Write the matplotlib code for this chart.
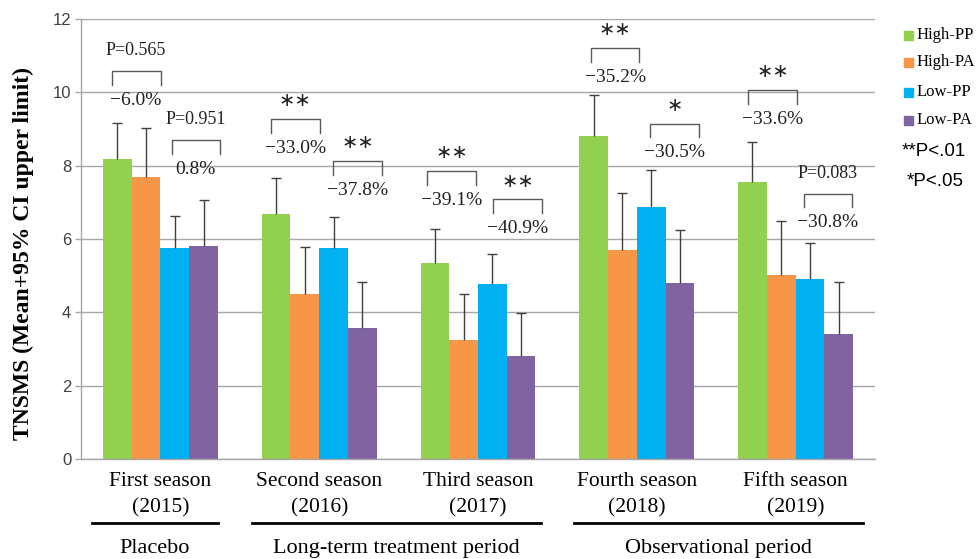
import matplotlib
matplotlib.use("Agg")
import matplotlib.pyplot as plt
from matplotlib.patches import Rectangle
import numpy as np

# ---- data ----
seasons = ["First season\n(2015)", "Second season\n(2016)", "Third season\n(2017)",
           "Fourth season\n(2018)", "Fifth season\n(2019)"]
groups = ["High-PP", "High-PA", "Low-PP", "Low-PA"]
mean_high_pp = [8.17, 6.68, 5.34, 8.81, 7.55]
mean_high_pa = [7.68, 4.49, 3.25, 5.71, 5.02]
mean_low_pp = [5.76, 5.75, 4.76, 6.88, 4.91]
mean_low_pa = [5.80, 3.58, 2.81, 4.79, 3.40]
ci_high_pp = [9.16, 7.67, 6.27, 9.93, 8.64]
ci_high_pa = [9.03, 5.77, 4.49, 7.25, 6.50]
ci_low_pp = [6.62, 6.60, 5.58, 7.87, 5.88]
ci_low_pa = [7.07, 4.82, 3.99, 6.25, 4.82]
periods = ["Placebo", "Long-term treatment period", "Observational period"]
period_spans = [(-0.43, 0.36), (0.575, 2.397), (2.606, 4.426)]

# comparison brackets: (x0, x1, y_top, y_bottom, label above, label below)
comparisons = [
    (-0.307, 0.002, 10.59, 10.20, "P=0.565", "\u22126.0%"),
    (0.071, 0.375, 8.70, 8.32, "P=0.951", "0.8%"),
    (0.696, 1.003, 9.27, 8.88, "**", "\u221233.0%"),
    (1.089, 1.397, 8.13, 7.74, "**", "\u221237.8%"),
    (1.681, 1.987, 7.86, 7.47, "**", "\u221239.1%"),
    (2.096, 2.401, 7.08, 6.70, "**", "\u221240.9%"),
    (2.712, 3.016, 11.22, 10.83, "**", "\u221235.2%"),
    (3.083, 3.392, 9.15, 8.79, "*", "\u221230.5%"),
    (3.702, 4.007, 10.06, 9.68, "**", "\u221233.6%"),
    (4.053, 4.353, 7.22, 6.86, "P=0.083", "\u221230.8%"),
]

colors = ["#92D050", "#F79646", "#00B0F0", "#8064A2"]
means = [mean_high_pp, mean_high_pa, mean_low_pp, mean_low_pa]
uppers = [ci_high_pp, ci_high_pa, ci_low_pp, ci_low_pa]

W, H = 977, 559
fig = plt.figure(figsize=(W / 100, H / 100), dpi=100)
ax = fig.add_axes([81 / W, 1 - 459 / H, 794 / W, 440 / H])

x = np.arange(len(seasons))
bw = 0.181
for i, (m, u, c) in enumerate(zip(means, uppers, colors)):
    xs = x + (i - 1.5) * bw
    ax.bar(xs, m, width=bw, color=c, edgecolor="none", zorder=2)
    ax.vlines(xs, m, u, color="#404040", lw=1.0, zorder=3)
    ax.plot(xs, u, ls="none", marker="_", ms=7, mew=1.0, color="#404040", zorder=3)

ax.set_xlim(-0.5, 4.5)
ax.set_ylim(0, 12)
ax.set_yticks(range(0, 13, 2))
ax.yaxis.grid(True, color="#A6A6A6", lw=1.0)
ax.set_axisbelow(True)
for s in ["top", "right"]:
    ax.spines[s].set_visible(False)
for s in ["left", "bottom"]:
    ax.spines[s].set_color("#A6A6A6")
    ax.spines[s].set_linewidth(1.0)
ax.tick_params(axis="y", length=4, color="#A6A6A6", width=1.0, pad=3,
               labelsize=12, labelcolor="#404040")
for t in ax.get_yticklabels():
    t.set_fontfamily("Liberation Sans")
ax.set_xticks(x)
ax.set_xticklabels(seasons, fontfamily="Liberation Serif", fontsize=15.5, linespacing=1.55)
ax.tick_params(axis="x", length=0, pad=9)

# comparison brackets and annotations
for x0, x1, yt, yb, top, bottom in comparisons:
    ax.plot([x0, x0, x1, x1], [yb, yt, yt, yb], color="#595959", lw=1.0, zorder=4)
    xc = (x0 + x1) / 2
    if top.startswith("*"):
        ax.text(xc, yt + 0.5, "\u2217" * len(top), ha="center", va="center",
                fontsize=14, family="DejaVu Sans", color="#222222")
    else:
        ax.text(xc, yt + 0.56, top, ha="center", va="center",
                fontsize=13, family="Liberation Serif", color="#222222")
    ax.text(xc, yb - 0.42, bottom, ha="center", va="center",
            fontsize=14, family="Liberation Serif", color="#222222")

# period underlines and labels
trans = ax.get_xaxis_transform()
for name, (a, b) in zip(periods, period_spans):
    ax.plot([a, b], [-0.146, -0.146], color="black", lw=2.0, transform=trans, clip_on=False)
    ax.text((a + b) / 2, -0.204, name, transform=trans, ha="center", va="center",
            fontsize=16, family="Liberation Serif")

fig.text(23 / W, 1 - 253 / H, "TNSMS (Mean+95% CI upper limit)", rotation=90,
         ha="center", va="center", fontsize=17, fontweight="bold",
         family="Liberation Serif")

# legend drawn in figure pixel positions
rows = [35, 62, 92, 120]
for name, c, yr in zip(groups, colors, rows):
    fig.patches.append(Rectangle(((904) / W, 1 - (yr + 4.5) / H), 9 / W, 9 / H,
                                 transform=fig.transFigure, color=c))
    fig.text(917 / W, 1 - yr / H, name, ha="left", va="center", fontsize=12,
             family="Liberation Serif")
fig.text(902 / W, 1 - 151 / H, "**P<.01", ha="left", va="center", fontsize=13.5,
         family="Liberation Sans")
fig.text(907 / W, 1 - 182 / H, "*P<.05", ha="left", va="center", fontsize=13.5,
         family="Liberation Sans")

fig.savefig("out.png", dpi=100)
